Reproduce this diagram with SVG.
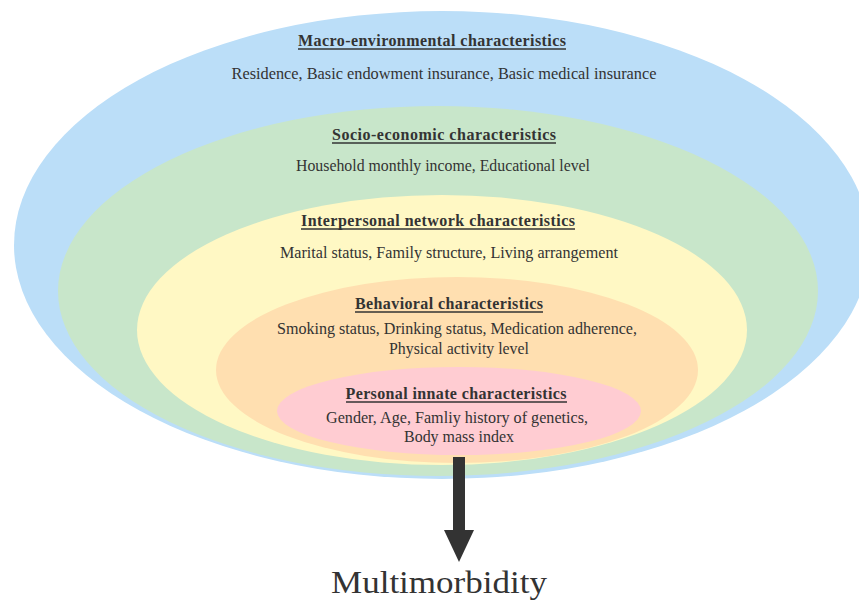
<svg xmlns="http://www.w3.org/2000/svg" width="859" height="601" viewBox="0 0 859 601">
<style>
.t{font-family:"Liberation Serif","Times New Roman",serif;font-size:16px;font-weight:bold;fill:#333;text-anchor:middle}
.b{font-family:"Liberation Serif","Times New Roman",serif;font-size:17px;fill:#333;text-anchor:middle}
.u{stroke:#333;stroke-width:1.3}
</style>
<rect width="859" height="601" fill="#fff"/>
<g id="macro">
<ellipse cx="442" cy="245" rx="428" ry="234" fill="#bbdef8"/>
<text class="t" x="432" y="46" textLength="268" lengthAdjust="spacing">Macro-environmental characteristics</text>
<line class="u" x1="298" y1="49" x2="566" y2="49"/>
<text class="b" x="444" y="79" textLength="425" lengthAdjust="spacingAndGlyphs">Residence, Basic endowment insurance, Basic medical insurance</text>
</g>
<g id="socio">
<ellipse cx="438" cy="291" rx="380" ry="185" fill="#c8e6ca"/>
<text class="t" x="444" y="140" textLength="224" lengthAdjust="spacing">Socio-economic characteristics</text>
<line class="u" x1="332" y1="143" x2="556" y2="143"/>
<text class="b" x="443" y="171" textLength="294" lengthAdjust="spacingAndGlyphs">Household monthly income, Educational level</text>
</g>
<g id="interpersonal">
<ellipse cx="442" cy="330" rx="305" ry="135" fill="#fff8c4"/>
<text class="t" x="438" y="226" textLength="274" lengthAdjust="spacing">Interpersonal network characteristics</text>
<line class="u" x1="301" y1="229" x2="575" y2="229"/>
<text class="b" x="449" y="258" textLength="338" lengthAdjust="spacingAndGlyphs">Marital status, Family structure, Living arrangement</text>
</g>
<g id="behavioral">
<ellipse cx="457" cy="370" rx="241" ry="93" fill="#ffdfb0"/>
<text class="t" x="449" y="309" textLength="188" lengthAdjust="spacing">Behavioral characteristics</text>
<line class="u" x1="355" y1="312" x2="543" y2="312"/>
<text class="b" x="457" y="334" textLength="360" lengthAdjust="spacingAndGlyphs">Smoking status, Drinking status, Medication adherence,</text>
<text class="b" x="459" y="354" textLength="140" lengthAdjust="spacingAndGlyphs">Physical activity level</text>
</g>
<g id="personal">
<ellipse cx="459" cy="411" rx="182" ry="44" fill="#ffccd2"/>
<text class="t" x="456" y="399" textLength="221" lengthAdjust="spacing">Personal innate characteristics</text>
<line class="u" x1="346" y1="402" x2="567" y2="402"/>
<text class="b" x="457" y="423" textLength="262" lengthAdjust="spacingAndGlyphs">Gender, Age, Famliy history of genetics,</text>
<text class="b" x="459" y="442" textLength="110" lengthAdjust="spacingAndGlyphs">Body mass index</text>
</g>
<g id="connectors">
<polygon points="453,457 465,457 465,530 474,530 459,562 444,530 453,530" fill="#333"/>
</g>
<g id="multimorbidity">
<text x="439" y="593" font-family="Liberation Serif, Times New Roman, serif" font-size="31" fill="#333" text-anchor="middle" textLength="216" lengthAdjust="spacingAndGlyphs">Multimorbidity</text>
</g>
</svg>
